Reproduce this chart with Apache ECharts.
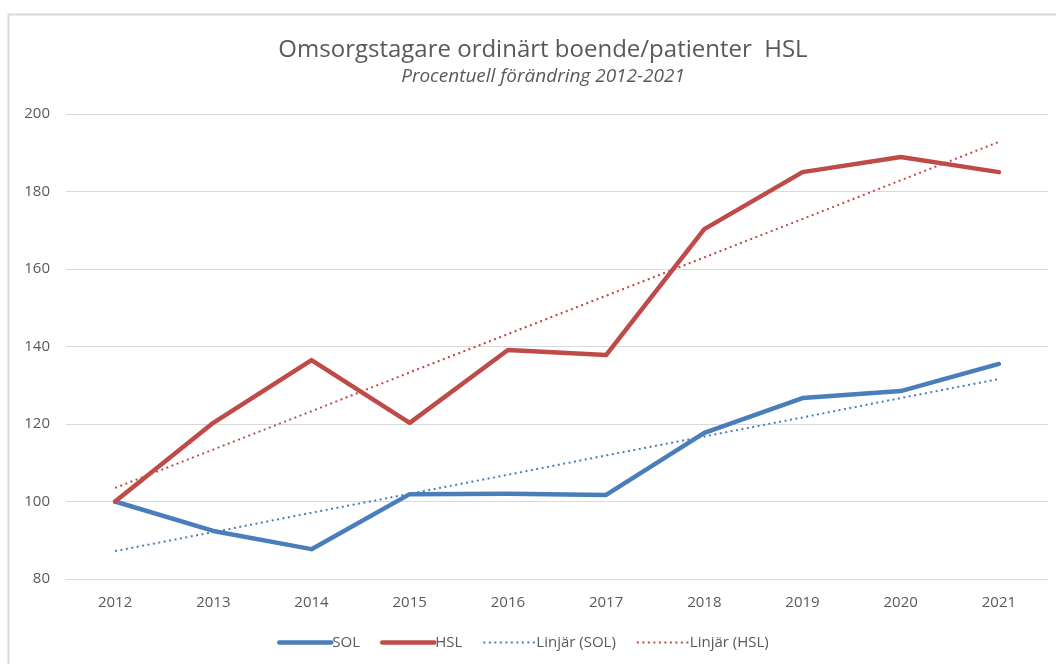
<!DOCTYPE html>
<html>
<head>
<meta charset="utf-8">
<script src="https://cdn.jsdelivr.net/npm/echarts@6/dist/echarts.min.js"></script>
<style>
  html, body { margin: 0; padding: 0; background: #fff; }
  #main { width: 1056px; height: 664px; }
</style>
</head>
<body>
<div id="main"></div>
<script>
// kategorier och värden
const years = ["2012", "2013", "2014", "2015", "2016", "2017", "2018", "2019", "2020", "2021"];
const sol = [100, 92.4, 87.7, 101.9, 102, 101.7, 117.7, 126.7, 128.5, 135.5];
const hsl = [100, 120.3, 136.5, 120.3, 139.1, 137.8, 170.3, 185, 188.9, 185];
const trendSol = [87.2, 92.1, 97.1, 102.0, 106.9, 111.9, 116.8, 121.7, 126.7, 131.6];
const trendHsl = [103.5, 113.4, 123.3, 133.3, 143.2, 153.1, 163.0, 172.9, 182.9, 192.8];

const blue = "#4a7ebb";
const red = "#be4b48";
const textColor = "#595959";
const font = "'Open Sans', 'Noto Sans', sans-serif";

const myChart = echarts.init(document.getElementById("main"));
const option = {
  animation: false,
  textStyle: { fontFamily: font },
  graphic: [
    {
      type: "rect",
      shape: { x: 8.5, y: 14.5, width: 1100, height: 700 },
      style: { fill: "none", stroke: "#d9d9d9", lineWidth: 2 },
      silent: true
    }
  ],
  title: {
    text: "Omsorgstagare ordinärt boende/patienter  HSL",
    subtext: "Procentuell förändring 2012-2021",
    left: 538,
    textAlign: "center",
    top: 33,
    itemGap: 5,
    textStyle: { color: textColor, fontSize: 24, fontWeight: "normal", fontFamily: font },
    subtextStyle: { color: textColor, fontSize: 19, fontStyle: "italic", fontFamily: font }
  },
  legend: {
    bottom: 9,
    left: 272,
    itemWidth: 52,
    itemHeight: 14,
    itemGap: 20,
    itemStyle: { opacity: 0 },
    textStyle: { color: textColor, fontSize: 15, fontFamily: font, padding: [0, 0, 0, -4] },
    data: [
      { name: "SOL", lineStyle: { width: 4.5 } },
      { name: "HSL", lineStyle: { width: 4.5 } },
      { name: "Linjär (SOL)", lineStyle: { width: 2 } },
      { name: "Linjär (HSL)", lineStyle: { width: 2 } }
    ]
  },
  grid: { left: 66, right: 8, top: 114, bottom: 85 },
  xAxis: {
    type: "category",
    data: years,
    boundaryGap: true,
    axisLine: { lineStyle: { color: "#d9d9d9", width: 1 } },
    axisTick: { show: false },
    axisLabel: { color: textColor, fontSize: 15, margin: 16 }
  },
  yAxis: {
    type: "value",
    min: 80,
    max: 200,
    interval: 20,
    axisLine: { show: false },
    axisTick: { show: false },
    axisLabel: { color: textColor, fontSize: 15, margin: 16 },
    splitLine: { lineStyle: { color: "#d9d9d9", width: 1 } }
  },
  series: [
    {
      name: "SOL",
      type: "line",
      data: sol,
      symbol: "none",
      lineStyle: { color: blue, width: 4.5, cap: "round", join: "round" },
      itemStyle: { color: blue },
      z: 3
    },
    {
      name: "HSL",
      type: "line",
      data: hsl,
      symbol: "none",
      lineStyle: { color: red, width: 4.5, cap: "round", join: "round" },
      itemStyle: { color: red },
      z: 3
    },
    {
      name: "Linjär (SOL)",
      type: "line",
      data: trendSol,
      symbol: "none",
      lineStyle: { color: blue, width: 2, type: [2, 3.5] },
      itemStyle: { color: blue },
      z: 2
    },
    {
      name: "Linjär (HSL)",
      type: "line",
      data: trendHsl,
      symbol: "none",
      lineStyle: { color: red, width: 2, type: [2, 3.5] },
      itemStyle: { color: red },
      z: 2
    }
  ]
};
myChart.setOption(option);
</script>
</body>
</html>
